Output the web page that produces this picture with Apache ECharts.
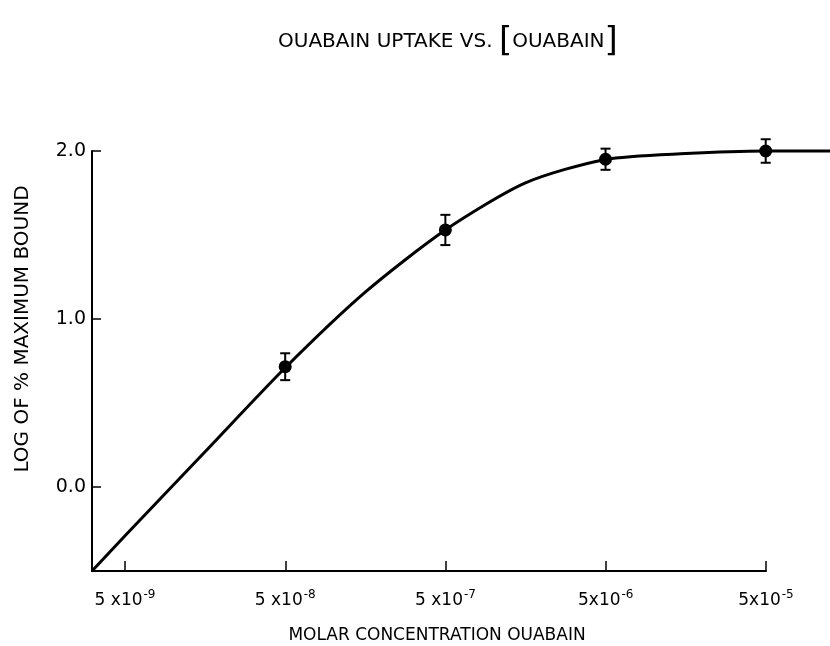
<!DOCTYPE html>
<html>
<head>
<meta charset="utf-8">
<script src="https://cdn.jsdelivr.net/npm/echarts@6/dist/echarts.min.js"></script>
<style>
  html, body { margin: 0; padding: 0; background: #fff; }
  #chart { width: 830px; height: 646px; }
</style>
</head>
<body>
<div id="chart"></div>
<script>
// measured points (molar conc., log of % maximum bound, +/- error)
const pointConc = [5e-8, 5e-7, 5e-6, 5e-5];
const pointLog = [0.716, 1.53, 1.951, 2.0];
const pointErr = [0.08, 0.09, 0.063, 0.07];

// fitted curve drawn through the points
const curveConc = [3.11e-9, 5e-9, 1.58e-8, 5e-8, 1.58e-7, 5e-7, 1.58e-6, 5e-6, 1.58e-5, 5e-5, 1.26e-4];
const curveLog = [-0.5, -0.29, 0.21, 0.71, 1.16, 1.53, 1.81, 1.95, 1.985, 2.0, 2.0];

// axes
const xTickConc = [5e-9, 5e-8, 5e-7, 5e-6, 5e-5];
const xTickBase = ["5 x10", "5 x10", "5 x10", "5x10", "5x10"];
const xTickExp = ["-9", "-8", "-7", "-6", "-5"];
const yTicks = [0, 1, 2];

const FONT = "DejaVu Sans";
const lg = (v) => Math.log10(v);
const xMin = lg(3.11e-9);

const chart = echarts.init(document.getElementById("chart"));

const option = {
  backgroundColor: "#fff",
  animation: false,
  title: {
    left: 273,
    top: 20,
    text: "{t|OUABAIN UPTAKE VS. }{b|[}{t|OUABAIN}{b|]}",
    textStyle: {
      fontWeight: "normal",
      rich: {
        t: { fontFamily: FONT, fontSize: 20, fontWeight: "normal", color: "#000" },
        b: { fontFamily: FONT, fontSize: 34, fontWeight: "normal", color: "#000" },
      },
    },
  },
  graphic: [
    {
      type: "text",
      x: 23,
      y: 329,
      rotation: Math.PI / 2,
      style: {
        text: "LOG OF % MAXIMUM BOUND",
        font: "20px " + FONT,
        fill: "#000",
        align: "center",
        verticalAlign: "middle",
      },
    },
    {
      type: "text",
      x: 437,
      y: 636,
      style: {
        text: "MOLAR CONCENTRATION OUABAIN",
        font: "17px " + FONT,
        fill: "#000",
        align: "center",
        verticalAlign: "middle",
      },
    },
  ],
  // grid 0 carries the drawn axes, grid 1 the curve (runs past the axis end)
  grid: [
    { left: 92, right: 64, top: 151, bottom: 75 },
    { left: 92, right: 0, top: 151, bottom: 75 },
  ],
  xAxis: [
    {
      type: "value",
      gridIndex: 0,
      min: xMin,
      max: lg(5e-5),
      axisLine: { show: true, onZero: false, lineStyle: { color: "#000", width: 2 } },
      axisTick: {
        show: true,
        inside: true,
        length: 10,
        customValues: xTickConc.map(lg),
        lineStyle: { color: "#000", width: 1.5 },
      },
      axisLabel: {
        margin: 18,
        customValues: xTickConc.map(lg),
        formatter: (v) => {
          const i = xTickConc.findIndex((c) => Math.abs(lg(c) - v) < 1e-6);
          return "{m|" + xTickBase[i] + "}{s|" + xTickExp[i] + "}";
        },
        rich: {
          m: { fontFamily: FONT, fontSize: 17, color: "#000" },
          s: { fontFamily: FONT, fontSize: 12, color: "#000", padding: [0, 0, 12, 1] },
        },
      },
      splitLine: { show: false },
    },
    {
      type: "value",
      gridIndex: 1,
      min: xMin,
      max: lg(1.26e-4),
      show: false,
    },
  ],
  yAxis: [
    {
      type: "value",
      gridIndex: 0,
      min: -0.5,
      max: 2,
      axisLine: { show: true, onZero: false, lineStyle: { color: "#000", width: 2 } },
      axisTick: {
        show: true,
        inside: true,
        length: 9,
        customValues: yTicks,
        lineStyle: { color: "#000", width: 1.5 },
      },
      axisLabel: {
        margin: 6,
        customValues: yTicks,
        formatter: (v) => v.toFixed(1),
        fontFamily: FONT,
        fontSize: 19,
        color: "#000",
      },
      splitLine: { show: false },
    },
    {
      type: "value",
      gridIndex: 1,
      min: -0.5,
      max: 2,
      show: false,
    },
  ],
  series: [
    {
      type: "line",
      xAxisIndex: 1,
      yAxisIndex: 1,
      data: curveConc.map((c, i) => [lg(c), curveLog[i]]),
      smooth: 0.25,
      symbol: "none",
      clip: false,
      lineStyle: { color: "#000", width: 3 },
    },
    {
      type: "custom",
      xAxisIndex: 1,
      yAxisIndex: 1,
      clip: false,
      data: pointConc.map((c, i) => [lg(c), pointLog[i] - pointErr[i], pointLog[i] + pointErr[i]]),
      renderItem: (params, api) => {
        const lo = api.coord([api.value(0), api.value(1)]);
        const hi = api.coord([api.value(0), api.value(2)]);
        const w = 5;
        const st = { stroke: "#000", lineWidth: 2 };
        return {
          type: "group",
          children: [
            { type: "line", shape: { x1: lo[0], y1: lo[1], x2: hi[0], y2: hi[1] }, style: st },
            { type: "line", shape: { x1: lo[0] - w, y1: lo[1], x2: lo[0] + w, y2: lo[1] }, style: st },
            { type: "line", shape: { x1: hi[0] - w, y1: hi[1], x2: hi[0] + w, y2: hi[1] }, style: st },
          ],
        };
      },
    },
    {
      type: "scatter",
      xAxisIndex: 1,
      yAxisIndex: 1,
      data: pointConc.map((c, i) => [lg(c), pointLog[i]]),
      symbol: "circle",
      symbolSize: 13,
      clip: false,
      itemStyle: { color: "#000", opacity: 1 },
    },
  ],
};

chart.setOption(option);
</script>
</body>
</html>
